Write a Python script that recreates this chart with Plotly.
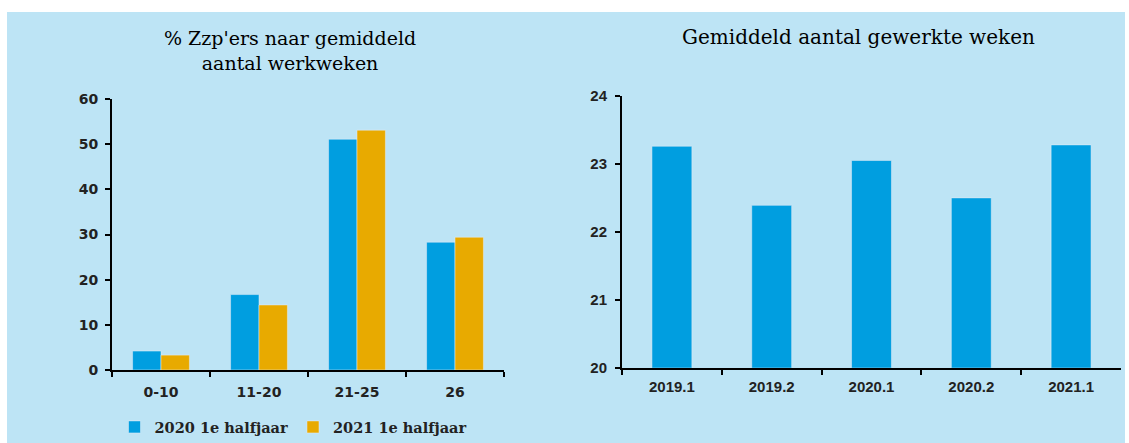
import plotly.graph_objects as go

W, H = 1129, 443

# Left chart data
cats_left = ["0-10", "11-20", "21-25", "26"]
vals_2020 = [4.2, 16.7, 51.1, 28.3]
vals_2021 = [3.3, 14.4, 53.1, 29.4]
series_names = ["2020 1e halfjaar", "2021 1e halfjaar"]

# Right chart data
cats_right = ["2019.1", "2019.2", "2020.1", "2020.2", "2021.1"]
vals_weeks = [23.26, 22.39, 23.05, 22.50, 23.28]

title_left = "% Zzp'ers naar gemiddeld<br>aantal werkweken"
title_right = "Gemiddeld aantal gewerkte weken"

BLUE = "#009EE0"
ORANGE = "#E8AA00"
BG = "#BDE4F5"

def px(x):
    return x / W

def py(y):
    return 1 - y / H

fig = go.Figure()
fig.add_trace(go.Bar(x=cats_left, y=vals_2020, name=series_names[0], marker_color=BLUE,
                     xaxis="x", yaxis="y"))
fig.add_trace(go.Bar(x=cats_left, y=vals_2021, name=series_names[1], marker_color=ORANGE,
                     xaxis="x", yaxis="y"))
fig.add_trace(go.Bar(x=cats_right, y=vals_weeks, name="Gemiddeld", marker_color=BLUE,
                     xaxis="x2", yaxis="y2", showlegend=False, width=0.4))

tickfont_left = dict(family="DejaVu Sans", size=14, color="#222", weight="bold")
tickfont_right = dict(family="Liberation Sans", size=15, color="#222", weight="bold")

axis_common = dict(showline=True, linecolor="black", linewidth=2, ticks="outside",
                   ticklen=5, tickwidth=2, tickcolor="black", showgrid=False)

fig.update_layout(
    width=W, height=H,
    margin=dict(l=0, r=0, t=0, b=0, autoexpand=False),
    paper_bgcolor="white",
    plot_bgcolor="rgba(0,0,0,0)",
    barmode="group",
    bargap=0.42,
    bargroupgap=0,
    xaxis=dict(domain=[px(112), px(504)], type="category", tickson="boundaries",
               tickfont=tickfont_left, anchor="y", ticklabelstandoff=8, **axis_common),
    yaxis=dict(domain=[py(370), py(99)], range=[0, 60], dtick=10, zeroline=False,
               tickfont=tickfont_left, anchor="x", ticklabelstandoff=4, **axis_common),
    xaxis2=dict(domain=[px(622), px(1121)], type="category", tickson="boundaries",
                tickfont=tickfont_right, anchor="y2", ticklabelstandoff=4, **axis_common),
    yaxis2=dict(domain=[py(367.7), py(96)], range=[20, 24], dtick=1, zeroline=False,
                tickfont=tickfont_right, anchor="x2", ticklabelstandoff=5, **axis_common),
    legend=dict(orientation="h", x=px(293), y=py(427), xanchor="center", yanchor="middle",
                bgcolor="rgba(0,0,0,0)",
                font=dict(family="DejaVu Serif", size=14.5, color="#222", weight="bold"),
                itemwidth=30, tracegroupgap=0),
    shapes=[dict(type="rect", xref="paper", yref="paper", x0=px(7), x1=px(1125),
                 y0=0, y1=py(12), fillcolor=BG, line=dict(width=0), layer="below")],
    annotations=[
        dict(text=title_left, xref="paper", yref="paper", x=px(290), y=py(51),
             xanchor="center", yanchor="middle", showarrow=False,
             font=dict(family="DejaVu Serif", size=19, color="#000")),
        dict(text=title_right, xref="paper", yref="paper", x=px(858), y=py(37),
             xanchor="center", yanchor="middle", showarrow=False,
             font=dict(family="DejaVu Serif", size=20, color="#000")),
    ],
)

fig.write_html("out.html", config={"displayModeBar": False},
               post_script="document.body.style.margin='0';document.body.style.overflow='hidden';")
